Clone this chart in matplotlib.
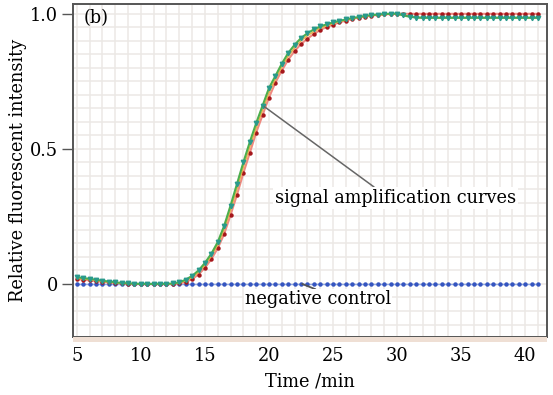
import numpy as np
import matplotlib
matplotlib.use("Agg")
import matplotlib.pyplot as plt
from matplotlib.ticker import MultipleLocator, FixedLocator
from matplotlib.patches import Rectangle

plt.rcParams['font.family'] = ['DejaVu Serif']

# time axis (min), one reading every 0.5 min
time = [5.0 + 0.5 * i for i in range(73)]

green = [0.025, 0.022, 0.019, 0.016, 0.012, 0.009, 0.006, 0.004, 0.002, 0.001,
         0.0, 0.0, 0.0, 0.0, 0.0, 0.002, 0.006, 0.016, 0.030, 0.050,
         0.078, 0.112, 0.155, 0.215, 0.29, 0.37, 0.45, 0.525, 0.595, 0.66,
         0.725, 0.77, 0.815, 0.855, 0.885, 0.91, 0.928, 0.942, 0.953, 0.961,
         0.968, 0.974, 0.979, 0.984, 0.988, 0.992, 0.995, 0.997, 0.999, 1.0,
         1.0, 0.994, 0.989, 0.986, 0.985, 0.985, 0.985, 0.985, 0.985, 0.985,
         0.985, 0.985, 0.985, 0.985, 0.985, 0.985, 0.985, 0.985, 0.985, 0.985,
         0.985, 0.985, 0.985]

orange = [0.021, 0.019, 0.016, 0.013, 0.010, 0.007, 0.005, 0.003, 0.002, 0.001,
          0.0, 0.0, 0.0, 0.0, 0.0, 0.001, 0.004, 0.012, 0.024, 0.043,
          0.070, 0.103, 0.145, 0.202, 0.274, 0.352, 0.432, 0.507, 0.578, 0.644,
          0.708, 0.758, 0.803, 0.843, 0.874, 0.900, 0.919, 0.934, 0.947, 0.956,
          0.964, 0.971, 0.977, 0.982, 0.987, 0.991, 0.994, 0.996, 0.998, 0.999,
          1.0, 0.995, 0.99, 0.987, 0.986, 0.986, 0.986, 0.986, 0.986, 0.986,
          0.986, 0.986, 0.986, 0.986, 0.986, 0.986, 0.986, 0.986, 0.986, 0.986,
          0.986, 0.986, 0.986]

red = [0.018, 0.016, 0.013, 0.011, 0.008, 0.006, 0.004, 0.002, 0.001, 0.0,
       0.0, 0.0, 0.0, 0.0, 0.0, 0.0, 0.002, 0.008, 0.018, 0.035,
       0.060, 0.092, 0.132, 0.185, 0.255, 0.33, 0.41, 0.485, 0.56, 0.625,
       0.69, 0.745, 0.79, 0.83, 0.862, 0.888, 0.908, 0.925, 0.94, 0.951,
       0.96, 0.968, 0.975, 0.981, 0.986, 0.99, 0.993, 0.996, 0.998, 0.999,
       1.0, 1.0, 1.0, 1.0, 1.0, 1.0, 1.0, 1.0, 1.0, 1.0,
       1.0, 1.0, 1.0, 1.0, 1.0, 1.0, 1.0, 1.0, 1.0, 1.0,
       1.0, 1.0, 1.0]

negative = [0.0] * 73

FS = 12.8

fig = plt.figure(figsize=(5.53, 3.95), dpi=100)
ax = fig.add_axes([0.132, 0.147, 0.857, 0.842])

# beige band under the x axis
fig.patches.append(Rectangle((0.132, 0.134), 0.857, 0.013, transform=fig.transFigure,
                             facecolor="#efdfd4", edgecolor="none", zorder=0))

ax.plot(time, negative, color="#8fa6e0", lw=1, marker="o", ms=2.2,
        mfc="#3555c0", mec="#3555c0", zorder=3)
ax.plot(time, red, color="#ef8a80", lw=1.5, marker="o", ms=2.2,
        mfc="#a5171c", mec="#a5171c", zorder=4)
ax.plot(time, orange, color="#e8b04a", lw=1.1, zorder=4)
ax.plot(time, green, color="#4cae4c", lw=1.5, marker="v", ms=3.2,
        mfc="#2a9a8c", mec="#2a9a8c", zorder=5)

ax.set_xlim(4.7, 41.7)
ax.set_ylim(-0.196, 1.035)

ax.xaxis.set_major_locator(FixedLocator([5, 10, 15, 20, 25, 30, 35, 40]))
ax.xaxis.set_minor_locator(MultipleLocator(1))
ax.yaxis.set_major_locator(FixedLocator([0, 0.5, 1.0]))
ax.yaxis.set_minor_locator(MultipleLocator(0.05))
ax.set_yticklabels(["0", "0.5", "1.0"])

ax.grid(which="both", color="#ece8e5", lw=1.1, zorder=0)
ax.set_axisbelow(True)
ax.tick_params(axis="x", which="both", length=3, width=0.8, color="#666666",
               labelsize=FS, pad=4)
ax.tick_params(axis="y", which="major", length=8, width=1, color="#555555",
               labelsize=FS, pad=3)
ax.tick_params(axis="y", which="minor", length=0)
for s in ax.spines.values():
    s.set_color("#555555")
    s.set_linewidth(1.4)

ax.set_xlabel("Time /min", fontsize=FS, labelpad=6)
ax.set_ylabel("Relative fluorescent intensity", fontsize=FS, labelpad=2)

ax.text(5.55, 0.985, "(b)", fontsize=FS, va="center", ha="left")

ax.annotate("signal amplification curves", xy=(19.65, 0.656), xytext=(29.9, 0.319),
            fontsize=FS, ha="center", va="center",
            bbox=dict(boxstyle="square,pad=0.1", fc="white", ec="none"),
            arrowprops=dict(arrowstyle="-", color="#666666", lw=1.1,
                            shrinkA=0, shrinkB=0, relpos=(0.42, 1.0)), zorder=6)

ax.annotate("negative control", xy=(22.6, 0.0), xytext=(23.8, -0.056),
            fontsize=FS, ha="center", va="center",
            bbox=dict(boxstyle="square,pad=0.05", fc="white", ec="none"),
            arrowprops=dict(arrowstyle="-", color="#555555", lw=1.3,
                            shrinkA=0, shrinkB=0, relpos=(0.5, 1.0)), zorder=6)

fig.savefig("out.png", dpi=100)
